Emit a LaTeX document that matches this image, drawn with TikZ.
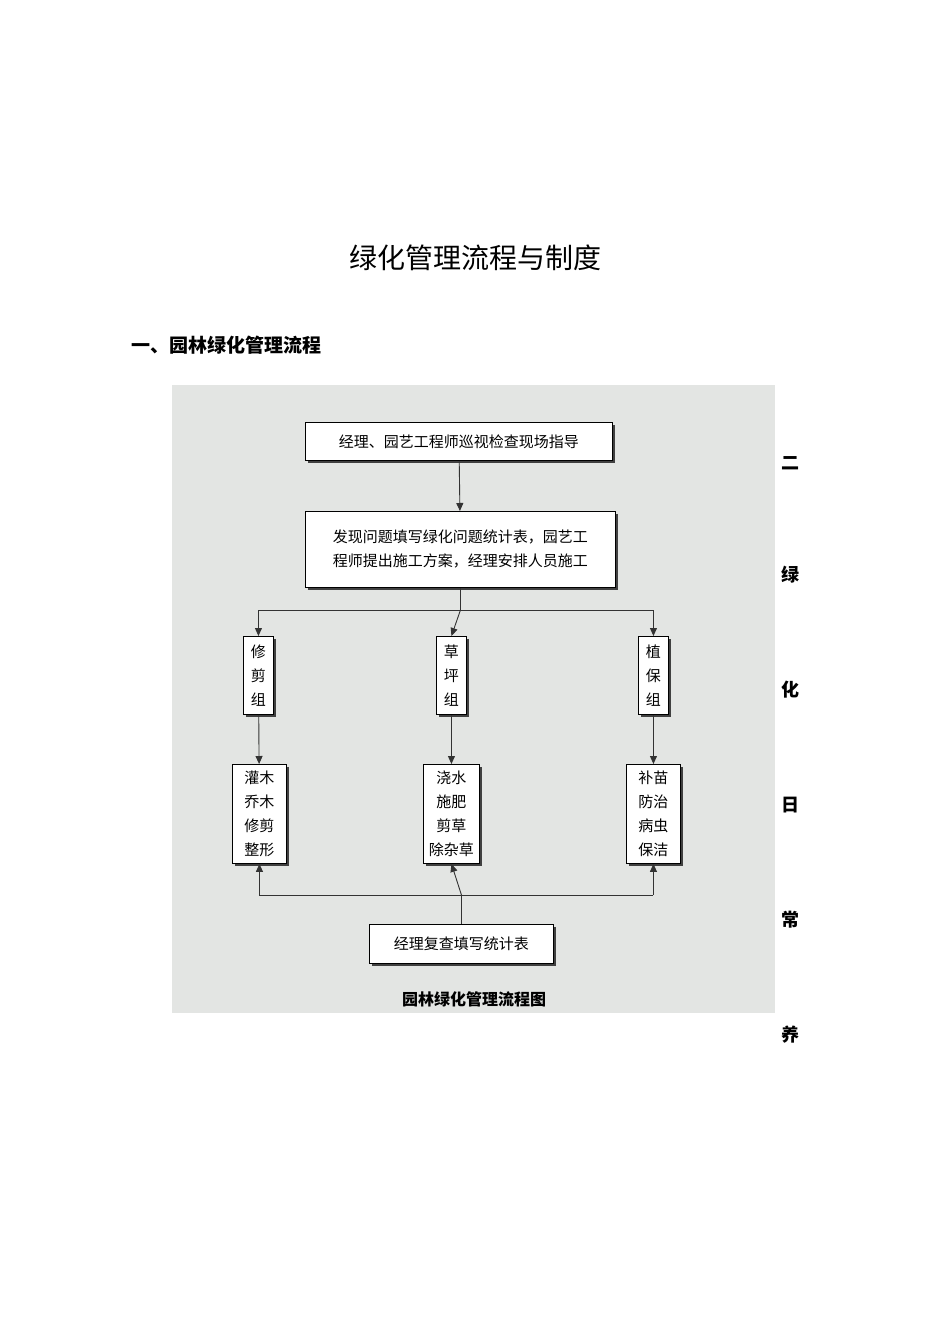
\documentclass[tikz,border=0pt]{standalone}
\usepackage{fontspec}
\setmainfont{Noto Sans CJK SC}
\usetikzlibrary{arrows.meta}
\tikzset{
 bx/.style={draw=black,line width=0.9pt,fill=white,inner sep=0pt,align=center,font=\fontsize{15}{24}\selectfont,
   drop shadow/.style={}},
 shad/.style={fill=black!70},
 ar/.style={-{Triangle[length=8pt,width=7pt]},line width=0.9pt,draw=black!80},
 ln/.style={line width=0.9pt,draw=black!80},
 side/.style={font=\fontsize{18}{18}\selectfont\bfseries}
}
\newcommand{\mybox}[6]{% name, x1,y1,x2,y2,text
 \fill[black!75] (#2+3,#3+3) rectangle (#4+3,#5+3);
 \node[bx,minimum width=#4-#2,minimum height=#5-#3,anchor=north west] (#1) at (#2,#3) {#6};}
\begin{document}
\begin{tikzpicture}[x=1pt,y=-1pt]
\useasboundingbox (0,0) rectangle (950,1342);
\fill[white] (0,0) rectangle (950,1342);
\node (title) at (475,258) {\fontsize{28}{28}\selectfont 绿化管理流程与制度};
\node[anchor=west] (head) at (128,345) {\fontsize{19}{19}\selectfont\bfseries 一、园林绿化管理流程};
\fill[gray!18!white,fill={rgb,255:red,227;green,229;blue,227}] (172,385) rectangle (775,1013);
\mybox{b1}{305}{422}{612}{460}{经理、园艺工程师巡视检查现场指导}
\mybox{b2}{305}{511}{615}{587}{发现问题填写绿化问题统计表，园艺工\\程师提出施工方案，经理安排人员施工}
\mybox{g1}{243}{636}{273}{714}{修\\剪\\组}
\mybox{g2}{436}{636}{466}{714}{草\\坪\\组}
\mybox{g3}{638}{636}{668}{714}{植\\保\\组}
\mybox{t1}{232}{764}{286}{863}{灌木\\乔木\\修剪\\整形}
\mybox{t2}{423}{764}{479}{863}{浇水\\施肥\\剪草\\除杂草}
\mybox{t3}{626}{764}{680}{863}{补苗\\防治\\病虫\\保洁}
\mybox{b3}{369}{924}{553}{963}{经理复查填写统计表}
\node (cap) at (474,999) {\fontsize{16}{16}\selectfont\bfseries 园林绿化管理流程图};
\draw[ar] (b1) -- (b2);
\coordinate (sp) at (b2.south |- 0,610);
\draw[ln] (b2.south) -- (sp);
\draw[ln] (g1.north |- sp) -- (g3.north |- sp);
\draw[ar] (g1.north |- sp) -- (g1.north);
\draw[ar] (sp) -- (g2.north);
\draw[ar] (g3.north |- sp) -- (g3.north);
\draw[ar] (g1) -- (t1);
\draw[ar] (g2) -- (t2);
\draw[ar] (g3) -- (t3);
\coordinate (jn) at (b3.north |- 0,895);
\draw[ln] (b3.north) -- (jn);
\draw[ln] (t1.south |- jn) -- (t3.south |- jn);
\draw[ar] (t1.south |- jn) -- (t1.south);
\draw[ar] (jn) -- (t2.south);
\draw[ar] (t3.south |- jn) -- (t3.south);
\foreach \c/\y [count=\i] in {二/463,绿/575,化/690,日/805,常/920,养/1035}
  \node[side] (s\i) at (790,\y) {\c};
\end{tikzpicture}
\end{document}
